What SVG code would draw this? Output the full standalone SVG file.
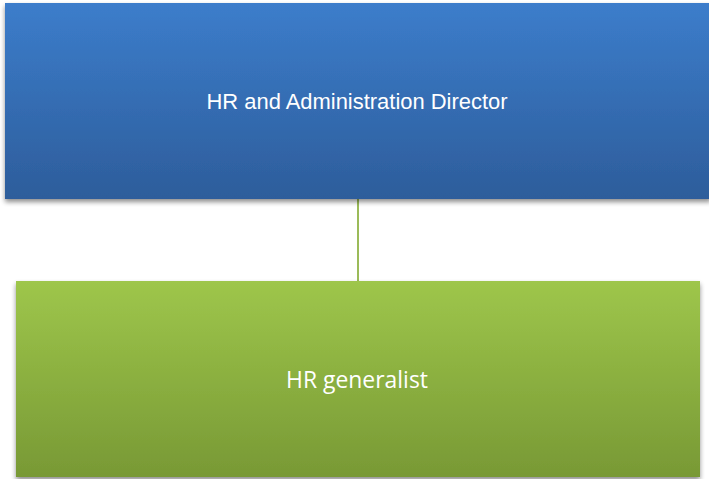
<svg xmlns="http://www.w3.org/2000/svg" width="709" height="479" viewBox="0 0 709 479">
  <defs>
    <linearGradient id="blueFill" x1="0" y1="0" x2="0" y2="1">
      <stop offset="0" stop-color="#3C7DCB"/>
      <stop offset="1" stop-color="#2D5D9B"/>
    </linearGradient>
    <linearGradient id="greenFill" x1="0" y1="0" x2="0" y2="1">
      <stop offset="0" stop-color="#9EC64B"/>
      <stop offset="1" stop-color="#789935"/>
    </linearGradient>
    <filter id="shadow" x="-5%" y="-5%" width="110%" height="115%">
      <feGaussianBlur in="SourceAlpha" stdDeviation="2.5"/>
      <feOffset dx="0" dy="3" result="blur"/>
      <feComponentTransfer><feFuncA type="linear" slope="0.45"/></feComponentTransfer>
      <feMerge><feMergeNode/><feMergeNode in="SourceGraphic"/></feMerge>
    </filter>
  </defs>
  <style>
    .label { fill: #FFFFFF; text-anchor: middle; }
    .director { font-family: "Liberation Sans", Arial, sans-serif; font-size: 22px; }
    .generalist { font-family: "Open Sans", "Noto Sans", sans-serif; font-size: 23px; }
    .link { stroke: #9BBB59; stroke-width: 2; fill: none; }
  </style>
  <rect width="709" height="479" fill="#FFFFFF"/>
  <g id="connectors">
    <line class="link" x1="358" y1="199" x2="358" y2="282"/>
  </g>
  <g id="node-director">
    <rect x="5" y="3" width="706" height="196" fill="url(#blueFill)" filter="url(#shadow)"/>
    <text class="label director" x="357" y="109" textLength="301" lengthAdjust="spacingAndGlyphs">HR and Administration Director</text>
  </g>
  <g id="node-generalist">
    <rect x="16" y="281" width="684" height="196" fill="url(#greenFill)" filter="url(#shadow)"/>
    <text class="label generalist" x="357" y="388" textLength="142" lengthAdjust="spacingAndGlyphs">HR generalist</text>
  </g>
</svg>
